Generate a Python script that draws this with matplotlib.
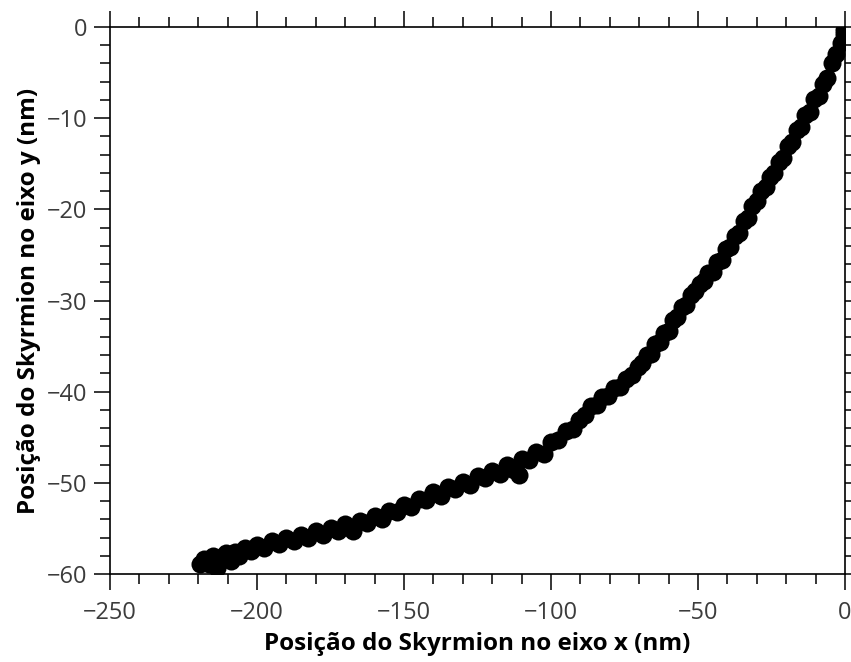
import matplotlib
matplotlib.use('Agg')
import matplotlib.pyplot as plt
from matplotlib.ticker import MultipleLocator

# posicao do skyrmion (nm), lida ponto a ponto
pos_x = [
    -219.5, -218.0, -216.5, -215.0, -213.5, -212.0, -210.5, -209.0, -207.5, -206.0,
    -204.0, -202.0, -200.0, -197.5, -195.0, -192.5, -190.0, -187.5, -185.0, -182.5,
    -180.0, -177.5, -175.0, -172.5, -170.0, -167.5, -165.0, -162.5, -160.0, -157.5,
    -155.0, -152.5, -150.0, -147.5, -145.0, -142.5, -140.0, -137.5, -135.0, -132.5,
    -130.0, -127.5, -125.0, -122.5, -120.0, -117.5, -115.0, -112.5, -111.0, -110.0,
    -107.5, -105.0, -102.5, -100.0, -97.5, -95.0, -92.5, -90.5, -88.5, -86.5,
    -84.5, -82.5, -80.5, -78.5, -76.5, -74.5, -72.5, -70.5, -69.0, -67.5,
    -66.0, -64.5, -63.0, -61.5, -60.0, -58.5, -57.0, -55.5, -54.0, -52.5,
    -51.0, -49.5, -48.0, -46.5, -45.0, -43.5, -42.0, -40.5, -39.0, -37.5,
    -36.0, -34.5, -33.0, -31.5, -30.0, -28.5, -27.0, -25.5, -24.0, -22.5,
    -21.0, -19.5, -18.0, -16.5, -15.0, -13.5, -12.0, -10.5, -9.0, -7.5,
    -6.0, -4.5, -3.0, -1.5, -0.5, -0.3,
]
pos_y = [
    -58.9, -58.3, -58.9, -58.0, -59.3, -58.1, -57.7, -58.6, -57.6, -58.0,
    -57.2, -57.5, -56.8, -57.1, -56.4, -56.7, -56.0, -56.4, -55.7, -56.0,
    -55.3, -55.7, -54.9, -55.3, -54.5, -55.3, -54.2, -54.4, -53.6, -54.0,
    -53.1, -53.2, -52.4, -52.7, -51.8, -51.9, -51.0, -51.4, -50.5, -50.7,
    -49.9, -50.2, -49.3, -49.5, -48.7, -49.0, -48.0, -48.6, -49.1, -47.4,
    -47.5, -46.6, -46.8, -45.5, -45.3, -44.3, -44.1, -43.1, -42.6, -41.6,
    -41.5, -40.6, -40.5, -39.6, -39.5, -38.6, -38.2, -37.3, -36.9, -36.0,
    -35.9, -34.8, -34.6, -33.6, -33.3, -32.1, -31.8, -30.7, -30.5, -29.4,
    -29.0, -28.2, -27.9, -27.0, -26.9, -25.8, -25.6, -24.4, -24.1, -22.9,
    -22.6, -21.3, -21.0, -19.6, -19.1, -18.0, -17.6, -16.4, -16.0, -14.8,
    -14.4, -13.1, -12.6, -11.3, -11.0, -9.6, -9.3, -7.9, -7.6, -6.2,
    -5.6, -4.0, -3.0, -1.8, -0.8, -0.3,
]

plt.rcParams['font.family'] = ['Open Sans', 'DejaVu Sans']

fig = plt.figure(figsize=(8.51, 6.62), dpi=100)
ax = fig.add_axes([0.1293, 0.1329, 0.8637, 0.8263])

ax.plot(pos_x, pos_y, 'o', color='black', markersize=13, markeredgewidth=0)

ax.set_xlim(-250, 0)
ax.set_ylim(-60, 0)
ax.xaxis.set_major_locator(MultipleLocator(50))
ax.xaxis.set_minor_locator(MultipleLocator(10))
ax.yaxis.set_major_locator(MultipleLocator(10))
ax.yaxis.set_minor_locator(MultipleLocator(2))

for s in ax.spines.values():
    s.set_linewidth(1.2)

ax.tick_params(which='both', direction='out', top=True, right=True,
               width=1.1, colors='black', labelcolor='#3c3c3c', labelsize=17)
ax.tick_params(which='major', length=11.5)
ax.tick_params(which='minor', length=7)
ax.tick_params(axis='x', which='major', pad=8)
ax.tick_params(axis='y', which='major', pad=5)

ax.set_xlabel('Posição do Skyrmion no eixo x (nm)', fontsize=17.5,
              fontweight='bold', labelpad=5)
ax.set_ylabel('Posição do Skyrmion no eixo y (nm)', fontsize=17.5,
              fontweight='bold', labelpad=4)

fig.savefig('out.png', dpi=100)
